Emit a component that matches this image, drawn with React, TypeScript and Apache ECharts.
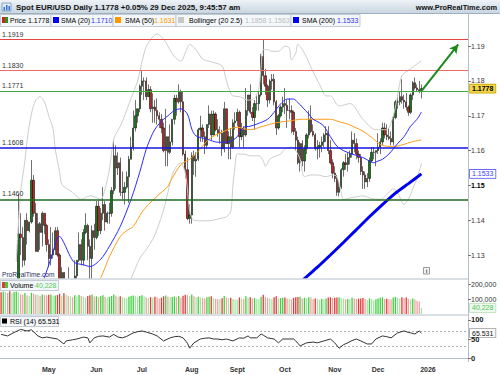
import React, { useEffect, useRef } from "react";
import * as echarts from "echarts";

const FONT = "'Liberation Sans', Arial, sans-serif";

// ---- category axis: trading days (weekdays) from 1 Apr 2025, plus empty future days
const START_DATE = Date.UTC(2025, 3, 1);
const CATEGORY_COUNT = 216;
const dates: string[] = (() => {
  const out: string[] = [];
  let t = START_DATE;
  while (out.length < CATEGORY_COUNT) {
    const d = new Date(t);
    const wd = d.getUTCDay();
    if (wd !== 0 && wd !== 6) out.push(d.toISOString().slice(0, 10));
    t += 86400000;
  }
  return out;
})();

const monthTickLabels: Record<string, string> = {
  "05": "May", "06": "Jun", "07": "Jul", "08": "Aug", "09": "Sept",
  "10": "Oct", "11": "Nov", "12": "Dec", "01": "2026",
};

// ---- daily candles: [open, high, low, close]
const ohlc: number[][] = [
  // April
  [1.0815,1.0830,1.0775,1.0790],[1.0790,1.0880,1.0775,1.0850],[1.0850,1.1145,1.0850,1.1050],[1.1050,1.1110,1.0930,1.0960],
  [1.0960,1.1050,1.0880,1.0910],[1.0910,1.0990,1.0880,1.0955],[1.0955,1.1070,1.0950,1.0960],[1.0960,1.1215,1.0940,1.1190],
  [1.1190,1.1475,1.1180,1.1360],[1.1360,1.1420,1.1300,1.1350],[1.1350,1.1380,1.1265,1.1285],[1.1285,1.1400,1.1270,1.1400],
  [1.1400,1.1420,1.1330,1.1370],[1.1370,1.1395,1.1365,1.1395],[1.1395,1.1573,1.1390,1.1515],[1.1515,1.1530,1.1410,1.1420],
  [1.1420,1.1450,1.1310,1.1310],[1.1310,1.1420,1.1310,1.1390],[1.1390,1.1395,1.1315,1.1365],[1.1365,1.1425,1.1325,1.1420],
  [1.1420,1.1420,1.1360,1.1385],[1.1385,1.1390,1.1310,1.1330],
  // May
  [1.1330,1.1345,1.1265,1.1290],[1.1290,1.1380,1.1270,1.1300],[1.1300,1.1365,1.1290,1.1315],[1.1315,1.1380,1.1300,1.1370],
  [1.1370,1.1380,1.1295,1.1300],[1.1300,1.1305,1.1200,1.1225],[1.1225,1.1265,1.1195,1.1250],[1.1250,1.1250,1.1065,1.1090],
  [1.1090,1.1195,1.1080,1.1185],[1.1185,1.1265,1.1170,1.1175],[1.1175,1.1210,1.1130,1.1185],[1.1185,1.1220,1.1130,1.1165],
  [1.1165,1.1285,1.1130,1.1240],[1.1240,1.1285,1.1210,1.1285],[1.1285,1.1365,1.1280,1.1330],[1.1330,1.1345,1.1270,1.1285],
  [1.1285,1.1375,1.1270,1.1365],[1.1365,1.1420,1.1360,1.1385],[1.1385,1.1390,1.1285,1.1325],[1.1325,1.1345,1.1210,1.1290],
  [1.1290,1.1385,1.1210,1.1370],[1.1370,1.1390,1.1315,1.1350],
  // June
  [1.1350,1.1455,1.1345,1.1440],[1.1440,1.1455,1.1355,1.1370],[1.1370,1.1435,1.1360,1.1420],[1.1420,1.1495,1.1400,1.1445],
  [1.1445,1.1455,1.1370,1.1395],[1.1395,1.1425,1.1390,1.1420],[1.1420,1.1450,1.1390,1.1420],[1.1420,1.1495,1.1410,1.1485],
  [1.1485,1.1631,1.1475,1.1585],[1.1585,1.1615,1.1490,1.1550],[1.1550,1.1595,1.1530,1.1565],[1.1565,1.1580,1.1470,1.1480],
  [1.1480,1.1540,1.1460,1.1480],[1.1480,1.1510,1.1445,1.1495],[1.1495,1.1540,1.1490,1.1525],[1.1525,1.1585,1.1450,1.1575],
  [1.1575,1.1640,1.1575,1.1610],[1.1610,1.1715,1.1600,1.1665],[1.1665,1.1745,1.1655,1.1700],[1.1700,1.1720,1.1680,1.1720],
  [1.1720,1.1790,1.1710,1.1785],
  // July
  [1.1785,1.1829,1.1760,1.1800],[1.1800,1.1810,1.1745,1.1800],[1.1800,1.1810,1.1745,1.1755],[1.1755,1.1790,1.1755,1.1775],
  [1.1775,1.1785,1.1710,1.1720],[1.1720,1.1765,1.1680,1.1725],[1.1725,1.1745,1.1680,1.1715],[1.1715,1.1750,1.1675,1.1700],
  [1.1700,1.1710,1.1665,1.1690],[1.1690,1.1705,1.1650,1.1665],[1.1665,1.1680,1.1595,1.1600],[1.1600,1.1720,1.1555,1.1640],
  [1.1640,1.1640,1.1555,1.1595],[1.1595,1.1675,1.1590,1.1625],[1.1625,1.1690,1.1615,1.1690],[1.1690,1.1760,1.1675,1.1750],
  [1.1750,1.1760,1.1700,1.1740],[1.1740,1.1790,1.1735,1.1770],[1.1770,1.1775,1.1710,1.1740],[1.1740,1.1770,1.1585,1.1590],
  [1.1590,1.1600,1.1520,1.1545],[1.1545,1.1580,1.1400,1.1405],[1.1405,1.1445,1.1390,1.1415],
  // August
  [1.1415,1.1595,1.1390,1.1585],[1.1585,1.1600,1.1530,1.1570],[1.1570,1.1595,1.1525,1.1575],[1.1575,1.1665,1.1570,1.1660],
  [1.1660,1.1700,1.1625,1.1665],[1.1665,1.1675,1.1625,1.1640],[1.1640,1.1655,1.1590,1.1615],[1.1615,1.1675,1.1605,1.1675],
  [1.1675,1.1730,1.1665,1.1705],[1.1705,1.1715,1.1630,1.1645],[1.1645,1.1715,1.1645,1.1705],[1.1705,1.1710,1.1655,1.1660],
  [1.1660,1.1690,1.1640,1.1650],[1.1650,1.1670,1.1620,1.1650],[1.1650,1.1660,1.1585,1.1605],[1.1605,1.1740,1.1595,1.1720],
  [1.1720,1.1720,1.1620,1.1620],[1.1620,1.1655,1.1575,1.1640],[1.1640,1.1665,1.1575,1.1610],[1.1610,1.1690,1.1605,1.1680],
  [1.1680,1.1710,1.1660,1.1685],
  // September
  [1.1685,1.1720,1.1670,1.1710],[1.1710,1.1715,1.1610,1.1640],[1.1640,1.1680,1.1630,1.1660],[1.1660,1.1670,1.1610,1.1645],
  [1.1645,1.1780,1.1640,1.1715],[1.1715,1.1760,1.1700,1.1760],[1.1760,1.1790,1.1705,1.1710],[1.1710,1.1725,1.1685,1.1695],
  [1.1695,1.1745,1.1660,1.1735],[1.1735,1.1760,1.1715,1.1735],[1.1735,1.1770,1.1715,1.1760],[1.1760,1.1878,1.1755,1.1870],
  [1.1870,1.1918,1.1790,1.1815],[1.1815,1.1835,1.1760,1.1785],[1.1785,1.1790,1.1725,1.1745],[1.1745,1.1805,1.1735,1.1800],
  [1.1800,1.1820,1.1775,1.1805],[1.1805,1.1820,1.1730,1.1740],[1.1740,1.1745,1.1645,1.1665],[1.1665,1.1705,1.1660,1.1700],
  [1.1700,1.1730,1.1695,1.1725],[1.1725,1.1755,1.1710,1.1735],
  // October
  [1.1735,1.1780,1.1705,1.1730],[1.1730,1.1745,1.1665,1.1715],[1.1715,1.1750,1.1690,1.1715],[1.1715,1.1730,1.1650,1.1710],
  [1.1710,1.1715,1.1645,1.1655],[1.1655,1.1665,1.1600,1.1630],[1.1630,1.1640,1.1560,1.1565],[1.1565,1.1625,1.1540,1.1620],
  [1.1620,1.1630,1.1555,1.1570],[1.1570,1.1615,1.1540,1.1605],[1.1605,1.1650,1.1590,1.1645],[1.1645,1.1715,1.1635,1.1690],
  [1.1690,1.1730,1.1650,1.1655],[1.1655,1.1675,1.1640,1.1645],[1.1645,1.1650,1.1600,1.1605],[1.1605,1.1630,1.1575,1.1610],
  [1.1610,1.1625,1.1580,1.1615],[1.1615,1.1640,1.1595,1.1625],[1.1625,1.1650,1.1610,1.1645],[1.1645,1.1670,1.1625,1.1650],
  [1.1650,1.1670,1.1590,1.1600],[1.1600,1.1630,1.1560,1.1565],[1.1565,1.1575,1.1520,1.1535],
  // November
  [1.1535,1.1555,1.1510,1.1520],[1.1520,1.1530,1.1470,1.1480],[1.1480,1.1510,1.1468,1.1495],[1.1495,1.1550,1.1490,1.1545],
  [1.1545,1.1570,1.1525,1.1565],[1.1565,1.1590,1.1545,1.1560],[1.1560,1.1595,1.1540,1.1580],[1.1580,1.1600,1.1560,1.1590],
  [1.1590,1.1655,1.1580,1.1630],[1.1630,1.1650,1.1595,1.1620],[1.1620,1.1635,1.1575,1.1590],[1.1590,1.1600,1.1565,1.1580],
  [1.1580,1.1590,1.1530,1.1540],[1.1540,1.1555,1.1490,1.1530],[1.1530,1.1540,1.1490,1.1510],[1.1510,1.1535,1.1495,1.1520],
  [1.1520,1.1580,1.1510,1.1570],[1.1570,1.1610,1.1565,1.1595],[1.1595,1.1610,1.1575,1.1595],[1.1595,1.1600,1.1555,1.1600],
  // December
  [1.1600,1.1650,1.1590,1.1610],[1.1610,1.1635,1.1590,1.1625],[1.1625,1.1680,1.1615,1.1665],[1.1665,1.1680,1.1635,1.1645],
  [1.1645,1.1675,1.1630,1.1640],[1.1640,1.1665,1.1630,1.1635],[1.1635,1.1655,1.1615,1.1625],[1.1625,1.1700,1.1615,1.1695],
  [1.1695,1.1745,1.1690,1.1740],[1.1740,1.1760,1.1720,1.1740],[1.1740,1.1770,1.1730,1.1755],[1.1755,1.1805,1.1735,1.1745],
  [1.1745,1.1760,1.1720,1.1740],[1.1740,1.1765,1.1715,1.1725],[1.1725,1.1730,1.1700,1.1710],[1.1710,1.1765,1.1705,1.1760],
  [1.1760,1.1800,1.1745,1.1795],[1.1795,1.1810,1.1775,1.1780],[1.1780,1.1790,1.1770,1.1775],[1.1775,1.1800,1.1765,1.1772],
  [1.1772,1.1790,1.1750,1.1778],
];

// ---- daily volume (thousands)
const volumeK: number[] = [
  145,150,148,140,152,138,147,150,143,132,128,140,125,118,142,137,130,128,120,131,127,125,
  128,130,118,124,126,135,120,138,128,122,118,112,125,119,127,121,115,108,120,126,130,117,
  118,112,120,125,116,110,114,120,130,122,115,118,112,108,104,116,120,124,119,113,121,
  125,118,110,106,112,108,115,110,104,109,118,124,116,110,113,118,112,120,108,122,128,126,119,
  130,118,112,116,110,108,104,112,115,118,106,102,100,98,105,120,110,104,108,100,96,
  95,110,104,100,118,108,112,104,106,100,98,116,128,114,108,104,100,112,118,104,106,108,
  110,104,100,98,108,112,114,116,104,108,106,112,110,98,104,100,96,102,98,104,110,112,106,
  108,110,112,106,104,98,100,96,108,104,100,102,104,106,100,94,104,100,90,98,
  104,108,112,100,102,98,96,110,114,108,104,112,106,110,102,98,104,96,88,84,40.228,
];

// ---- indicator lines: [day index, value]
const sma20Pts: number[][] = [
  [18,1.1200],[20,1.1235],[23,1.1290],[25,1.1330],[26,1.1350],[27,1.1353],[29,1.1335],[32,1.1295],[34,1.1278],
  [38,1.1272],[41,1.1267],[46,1.1288],[50,1.1325],[55,1.1382],[60,1.1460],[64,1.1538],[67,1.1604],[70,1.1650],
  [72,1.1670],[75,1.1690],[77,1.1700],[80,1.1715],[83,1.1720],[86,1.1705],[88,1.1662],[90,1.1642],[95,1.1633],
  [100,1.1624],[104,1.1624],[107,1.1630],[109,1.1640],[112,1.1667],[115,1.1670],[118,1.1676],[123,1.1690],
  [126,1.1710],[129,1.1734],[132,1.1748],[135,1.1748],[137,1.1738],[139,1.1725],[142,1.1705],[144,1.1690],
  [147,1.1680],[149,1.1670],[152,1.1640],[155,1.1613],[158,1.1600],[162,1.1590],[167,1.1580],[170,1.1570],
  [172,1.1565],[174,1.1570],[176,1.1575],[179,1.1590],[183,1.1620],[186,1.1640],[189,1.1670],[192,1.1690],[194,1.1711],
];
const sma50Pts: number[][] = [
  [40,1.1180],[43,1.1212],[46,1.1235],[50,1.1295],[55,1.1353],[58,1.1370],[61,1.1382],[65,1.1423],[68,1.1445],
  [72,1.1469],[77,1.1497],[78,1.1510],[83,1.1560],[87,1.1575],[91,1.1598],[96,1.1633],[102,1.1653],[109,1.1667],
  [115,1.1660],[121,1.1670],[127,1.1680],[133,1.1685],[139,1.1690],[146,1.1690],[152,1.1690],[156,1.1683],
  [160,1.1676],[164,1.1665],[167,1.1656],[171,1.1638],[175,1.1618],[179,1.1612],[183,1.1613],[186,1.1618],
  [189,1.1624],[194,1.1631],
];
const sma200Pts: number[][] = [
  [136,1.1205],[140,1.1232],[146,1.1265],[152,1.1300],[158,1.1336],[164,1.1373],[170,1.1410],[176,1.1445],
  [182,1.1478],[188,1.1505],[194,1.1533],
];
const bbUpperPts: number[][] = [
  [7,1.1280],[9,1.1480],[11,1.1570],[12,1.1630],[14,1.1705],[16,1.1745],[18,1.1755],[20,1.1740],[22,1.1700],
  [24,1.1662],[25,1.1604],[27,1.1540],[28,1.1503],[31,1.1488],[33,1.1480],[37,1.1460],[41,1.1470],[44,1.1465],
  [46,1.1460],[48,1.1490],[50,1.1546],[52,1.1633],[55,1.1670],[57,1.1700],[60,1.1750],[63,1.1800],[66,1.1880],
  [68,1.1910],[72,1.1935],[75,1.1920],[77,1.1900],[80,1.1870],[83,1.1857],[85,1.1880],[87,1.1905],[90,1.1890],
  [93,1.1863],[97,1.1855],[102,1.1843],[104,1.1800],[106,1.1765],[107,1.1757],[110,1.1755],[114,1.1745],
  [117,1.1750],[119,1.1780],[120,1.1840],[121,1.1890],[123,1.1890],[125,1.1885],[128,1.1885],[131,1.1900],
  [133,1.1895],[134,1.1860],[136,1.1880],[137,1.1905],[140,1.1880],[144,1.1826],[147,1.1790],[150,1.1757],
  [152,1.1757],[156,1.1728],[161,1.1735],[167,1.1690],[173,1.1660],[178,1.1660],[181,1.1700],[183,1.1757],
  [185,1.1815],[189,1.1835],[194,1.1858],
];
const bbLowerPts: number[][] = [
  [58,1.1180],[60,1.1232],[62,1.1262],[64,1.1290],[67,1.1316],[70,1.1345],[72,1.1374],[75,1.1430],[77,1.1480],
  [79,1.1530],[81,1.1555],[83,1.1565],[85,1.1535],[86,1.1490],[87,1.1430],[89,1.1400],[94,1.1398],[98,1.1400],
  [101,1.1405],[104,1.1410],[106,1.1425],[107,1.1500],[108,1.1555],[109,1.1590],[112,1.1590],[115,1.1585],
  [119,1.1585],[121,1.1570],[122,1.1555],[124,1.1575],[127,1.1585],[129,1.1590],[131,1.1605],[134,1.1610],
  [136,1.1600],[138,1.1575],[140,1.1525],[143,1.1530],[146,1.1530],[150,1.1525],[153,1.1530],[155,1.1525],
  [157,1.1480],[158,1.1460],[162,1.1465],[167,1.1470],[171,1.1462],[175,1.1460],[179,1.1480],[181,1.1490],
  [183,1.1480],[186,1.1445],[188,1.1460],[190,1.1490],[192,1.1520],[194,1.1563],
];
const rsiPts: number[][] = [
  [0,62],[3,58],[6,67],[9,75],[12,71],[14,74],[17,58],[19,53],[21,55],[23,53],[26,50],[29,37],[30,45],[33,48],
  [35,50],[38,55],[40,53],[41,40],[43,53],[45,57],[47,58],[50,55],[52,62],[54,55],[56,53],[58,57],[61,66],
  [63,69],[65,71],[67,68],[70,63],[72,58],[75,45],[78,53],[80,56],[82,57],[84,53],[86,39],[87,26],[89,40],
  [92,50],[94,52],[96,53],[98,50],[100,50],[102,48],[104,50],[107,45],[110,53],[112,52],[114,58],[115,53],
  [118,53],[120,63],[121,60],[123,53],[126,50],[128,40],[130,50],[133,50],[135,50],[136,45],[138,32],[141,40],
  [144,42],[146,40],[149,45],[152,50],[154,40],[156,26],[158,35],[160,40],[162,46],[164,50],[166,45],[169,37],
  [171,37],[173,50],[176,58],[178,56],[180,53],[183,66],[186,71],[188,67],[189,66],[191,63],[193,71],[194,65.531],
];

// ---- horizontal levels and labels
const priceLevels = [
  { value: 1.1919, color: "#e64545", width: 1 },
  { value: 1.183, color: "#f06a6a", width: 1.2 },
  { value: 1.1771, color: "#3fae3f", width: 1 },
  { value: 1.1608, color: "#1515e0", width: 1.6 },
  { value: 1.146, color: "#1c6b1c", width: 1.6 },
];
const priceTicks = [1.13, 1.14, 1.15, 1.16, 1.17, 1.18, 1.19];
const lastPrice = 1.1778;
const lastSma200 = 1.1533;
const lastVolumeK = 40.228;
const lastRsi = 65.531;
const arrowFrom = [194, 1.1771];
const arrowTo = [211, 1.1905];

function buildOption(): any {
  const candleData = ohlc.map((r) => [r[0], r[3], r[2], r[1]]);
  const volData = volumeK.map((v, i) => {
    const up = ohlc[i][3] >= ohlc[i][0];
    const light = i > 0 && v < volumeK[i - 1];
    const color = up ? (light ? "#a3e6a3" : "#3fcf3f") : light ? "#f0a3a3" : "#e03a3a";
    return { value: v, itemStyle: { color } };
  });
  const isMonthStart = dates.map((d, i) => i > 0 && d.slice(5, 7) !== dates[i - 1].slice(5, 7));

  const lineS = (name: string, pts: number[][], color: string, width: number, smooth = 0.3) => ({
    type: "line", name, xAxisIndex: 0, yAxisIndex: 0, data: pts, symbol: "none", silent: true,
    smooth, lineStyle: { color, width }, z: 3,
  });

  const TOP = 6;
  const T = (x: number, y: number, text: string, fill = "#000", size = 7, weight = "normal", align = "left") => ({
    type: "text", x, y, silent: true, z: TOP,
    style: { text, fill, font: `${weight} ${size}px ${FONT}`, textAlign: align, textVerticalAlign: "middle" },
  });
  const R = (x: number, y: number, w: number, h: number, fill: string, stroke?: string) => ({
    type: "rect", silent: true, z: TOP, shape: { x, y, width: w, height: h },
    style: { fill, stroke: stroke || null, lineWidth: stroke ? 1 : 0 },
  });
  const L = (x1: number, y1: number, x2: number, y2: number, stroke: string, w = 1) => ({
    type: "line", silent: true, z: TOP, shape: { x1, y1, x2, y2 }, style: { stroke, lineWidth: w },
  });

  const boxStroke = "#c3ccd5";
  const boxFill = "#f4f7f9";
  const sep = "#b3c0cc";

  const graphic = [
    // white mask: hides candle wicks that reach below the price panel
    { type: "rect", silent: true, z: 4, shape: { x: 0, y: 278.6, width: 500, height: 97 }, style: { fill: "#fff" } },
    { type: "rect", silent: true, z: TOP, shape: { x: 0, y: 0, width: 500, height: 13 },
      style: { fill: new echarts.graphic.LinearGradient(0, 0, 0, 1, [
        { offset: 0, color: "#eef3f7" }, { offset: 1, color: "#c9d6e0" }]) } },
    L(0, 13.5, 500, 13.5, "#9fb1c0"),
    R(2, 3, 9, 8, "#dfeaf5", "#8aa6c2"),
    R(3.5, 7, 1.5, 3.5, "#2f6fd0"), R(6, 5, 1.5, 5.5, "#2f6fd0"), R(8.5, 6, 1.5, 4.5, "#2f6fd0"),
    T(16, 7, "Spot EUR/USD Daily 1.1778 +0.05% 29 Dec 2025, 9:45:57 am", "#111", 7.9, "bold"),
    T(497, 7, "www.ProRealTime.com", "#111", 7.4, "bold", "right"),
    // legend row
    R(0.5, 14.5, 50.5, 12, boxFill, boxStroke),
    R(51, 14.5, 62, 12, boxFill, boxStroke),
    R(113, 14.5, 63, 12, boxFill, boxStroke),
    R(176, 14.5, 115, 12, boxFill, boxStroke),
    R(291, 14.5, 69, 12, boxFill, boxStroke),
    R(2, 17, 3, 6, "#d42020"), R(5, 17, 3, 6, "#1f9a1f"),
    T(10, 20.5, "Price", "#000"), T(28, 20.5, "1.1778", "#000"),
    R(53, 17, 6, 6, "#0000ee"), T(61, 20.5, "SMA (20)", "#000"), T(91, 20.5, "1.1710", "#3030ff"),
    R(115, 17, 6, 6, "#ff9900"), T(125, 20.5, "SMA (50)", "#000"), T(154, 20.5, "1.1631", "#ff9900"),
    R(178, 17, 6, 6, "#c8c8c8"), T(189, 20.5, "Bollinger (20 2.5)", "#000"), T(245, 20.5, "1.1858 1.1563", "#bdbdbd"),
    R(293, 17, 6, 6, "#0000ee"), T(302, 20.5, "SMA (200)", "#000"), T(337, 20.5, "1.1533", "#3030ff"),
    // panel frame
    L(468.5, 13.5, 468.5, 362, sep),
    L(0, 279, 468.5, 279, sep),
    L(0, 315, 468.5, 315, sep),
    // watermark and info icon (inside price panel, under the candles)
    { ...T(2, 274, "ProRealTime.com", "#1e2c5e", 6.6), z: 1 },
    R(423.5, 267.5, 6, 6.5, "#f4f4f4", "#9a9a9a"),
    T(426.5, 271, "i", "#555", 6, "bold", "center"),
    // volume legend
    R(0.5, 280.5, 58, 10, boxFill, boxStroke),
    R(2, 282, 3, 6, "#e03a3a"), R(5, 282, 3, 6, "#3fcf3f"),
    T(10, 285.5, "Volume", "#000"), T(35, 285.5, "40,228", "#55cc55"),
    // RSI legend
    R(0.5, 316.5, 58, 10, boxFill, boxStroke),
    R(2, 318.5, 5, 5, "#000"),
    T(10, 321.5, "RSI (14) 65.531", "#000"),
  ];

  const endLabel = (text: string, bg: string, color: string, border: string, bold = false) => ({
    show: true, position: "end", formatter: text, distance: 2, backgroundColor: bg, color,
    borderColor: border, borderWidth: 0.8, padding: [1, 2, 0, 2], fontSize: 7,
    fontFamily: FONT, fontWeight: bold ? "bold" : "normal",
  });
  const hidden = { color: "rgba(0,0,0,0)", width: 0 };

  return {
    animation: false,
    backgroundColor: "#ffffff",
    graphic,
    grid: [
      { left: 0, top: 27, width: 468, height: 251 },
      { left: 0, top: 280, width: 468, height: 34 },
      { left: 0, top: 316, width: 468, height: 46 },
    ],
    xAxis: [
      { type: "category", gridIndex: 0, data: dates, show: false },
      { type: "category", gridIndex: 1, data: dates, show: false },
      {
        type: "category", gridIndex: 2, data: dates, z: 7,
        axisLine: { show: true, lineStyle: { color: sep } },
        axisTick: { show: false },
        axisLabel: {
          interval: (i: number) => isMonthStart[i],
          formatter: (v: string) => monthTickLabels[v.slice(5, 7)] || "",
          fontSize: 7, fontWeight: "bold", color: "#333", fontFamily: FONT, margin: 4,
        },
      },
    ],
    yAxis: [
      {
        type: "value", gridIndex: 0, position: "right", min: 1.1234, max: 1.1955, z: 7,
        axisLine: { show: false }, splitLine: { show: false },
        axisTick: { show: true, customValues: priceTicks, length: 3, lineStyle: { color: "#777" } },
        axisLabel: {
          customValues: priceTicks, margin: 3, fontSize: 7, color: "#333", fontFamily: FONT,
          formatter: (v: number) => (Math.abs(v - 1.15) < 1e-6 ? "{b|1.15}" : v.toFixed(2)),
          rich: { b: { fontWeight: "bold", color: "#000", fontSize: 7, fontFamily: FONT } },
        },
      },
      {
        type: "value", gridIndex: 1, position: "right", min: 0, max: 227, z: 7,
        axisLine: { show: false }, splitLine: { show: false },
        axisTick: { show: true, customValues: [100, 200], length: 3, lineStyle: { color: "#777" } },
        axisLabel: {
          customValues: [100, 200], margin: 3, fontSize: 7, color: "#333", fontFamily: FONT,
          formatter: (v: number) => (v * 1000).toLocaleString("en-US"),
        },
      },
      {
        type: "value", gridIndex: 2, position: "right", min: -10, max: 110, z: 7,
        axisLine: { show: false }, splitLine: { show: false },
        axisTick: { show: true, customValues: [0, 50, 100], length: 3, lineStyle: { color: "#777" } },
        axisLabel: {
          customValues: [0, 50, 100], margin: 3, fontSize: 7.5, color: "#222", fontWeight: "bold", fontFamily: FONT,
        },
      },
    ],
    series: [
      lineS("Bollinger upper", bbUpperPts, "#cdcdcd", 1),
      lineS("Bollinger lower", bbLowerPts, "#cdcdcd", 1),
      {
        type: "candlestick", name: "Price", xAxisIndex: 0, yAxisIndex: 0, data: candleData,
        barWidth: 1.8, silent: true, z: 2,
        itemStyle: { color: "#127a12", color0: "#c81e1e", borderColor: "#111", borderColor0: "#111", borderWidth: 0.6 },
        markLine: {
          silent: true, symbol: ["none", "none"], animation: false, precision: 4,
          data: [
            ...priceLevels.map((p) => ({
              yAxis: p.value,
              lineStyle: { color: p.color, width: p.width, type: "solid" },
              label: {
                show: true, position: "insideStartTop", formatter: p.value.toFixed(4),
                color: "#333", fontSize: 7, fontFamily: FONT, distance: [2, 2],
              },
            })),
            { yAxis: lastPrice, lineStyle: hidden, label: endLabel(lastPrice.toFixed(4), "#f2d548", "#000", "#c9a900", true) },
            [
              { coord: arrowFrom, symbol: "none" },
              { coord: arrowTo, symbol: "arrow", symbolSize: [7, 9],
                lineStyle: { color: "#1b8a1b", width: 2, type: "solid" }, label: { show: false } },
            ],
          ],
        },
      },
      lineS("SMA 50", sma50Pts, "#ff9c1a", 1),
      lineS("SMA 20", sma20Pts, "#2a2aff", 1),
      {
        ...lineS("SMA 200", sma200Pts, "#0000f0", 3, 0.2),
        markLine: {
          silent: true, symbol: ["none", "none"], animation: false, precision: 4,
          data: [{ yAxis: lastSma200, lineStyle: hidden, label: endLabel(lastSma200.toFixed(4), "#fff", "#3a3aff", "#5a5aff") }],
        },
      },
      {
        type: "bar", name: "Volume", xAxisIndex: 1, yAxisIndex: 1, data: volData, barWidth: 1.3, silent: true, z: 5,
        markLine: {
          silent: true, symbol: ["none", "none"], animation: false, precision: 4,
          data: [{ yAxis: lastVolumeK, lineStyle: hidden, label: endLabel("40,228", "#effaef", "#4cc44c", "#b5dcb5") }],
        },
      },
      {
        type: "line", name: "RSI", xAxisIndex: 2, yAxisIndex: 2, data: rsiPts, symbol: "none", silent: true, z: 5,
        lineStyle: { color: "#333", width: 1 },
        markLine: {
          silent: true, symbol: ["none", "none"], animation: false, precision: 4,
          data: [
            { yAxis: 70, lineStyle: { color: "#9a9a9a", width: 0.8, type: [2, 2] }, label: { show: false } },
            { yAxis: 30, lineStyle: { color: "#9a9a9a", width: 0.8, type: [2, 2] }, label: { show: false } },
            { yAxis: lastRsi, lineStyle: hidden, label: endLabel(lastRsi.toFixed(3), "#fff", "#111", "#999") },
          ],
        },
      },
    ],
  };
}

export default function App() {
  const ref = useRef<HTMLDivElement>(null);
  useEffect(() => {
    document.body.style.margin = "0";
    const chart = echarts.init(ref.current!, null, { renderer: "svg" });
    chart.setOption(buildOption());
    return () => chart.dispose();
  }, []);
  return <div ref={ref} style={{ width: 500, height: 375, background: "#fff" }} />;
}
